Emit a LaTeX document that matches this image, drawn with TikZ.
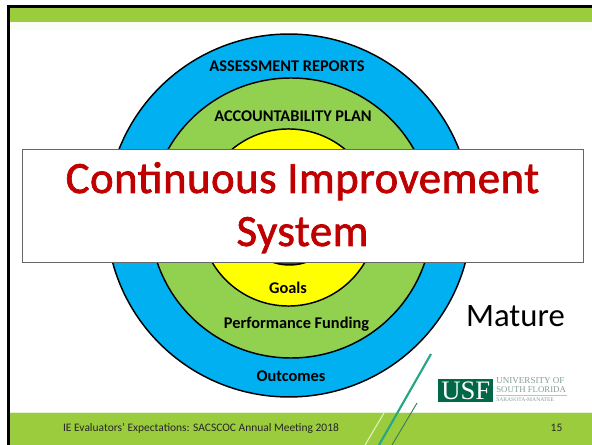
\documentclass[tikz,border=0pt]{standalone}
\usepackage{fontspec}
\setmainfont{Carlito}
\newfontfamily\logofont{Liberation Serif}
\newfontfamily\titlefont[FakeBold=1.6,LetterSpace=1.2]{Carlito}
\definecolor{barg}{HTML}{9BCC3E}
\definecolor{ringg}{HTML}{92D050}
\definecolor{ringb}{HTML}{00B0F0}
\definecolor{ringy}{HTML}{FFFF00}
\definecolor{titlered}{HTML}{C00000}
\definecolor{usfg}{HTML}{006747}
\definecolor{usfgray}{HTML}{85A094}
\definecolor{tealline}{HTML}{27A784}
\definecolor{darkline}{HTML}{3F7A5C}
\tikzset{
  ring/.style={draw=black,line width=1.1pt},
  lab/.style={anchor=base,inner sep=0pt,font=\fontsize{12.25}{14}\selectfont\bfseries,text=black},
  foot/.style={anchor=base,inner sep=0pt,font=\fontsize{8.6}{10}\selectfont,text=black!85},
  logotxt/.style={anchor=base west,inner sep=0pt,text=usfgray},
  titletxt/.style={anchor=base,inner sep=0pt,text=titlered,font=\titlefont\fontsize{33.5}{40}\selectfont},
}
\begin{document}
\begin{tikzpicture}[x=0.75pt,y=-0.75pt]
\useasboundingbox (0,0) rectangle (592,445);
\fill[white] (0,0) rectangle (592,445);
% slide frame and bars
\fill[barg!5] (9,22) rectangle (592,30);
\fill[barg] (9,8) rectangle (592,22.5);
\fill[barg!25] (9,411.5) rectangle (592,413);
\fill[barg] (9,413) rectangle (592,445);
\fill[black] (7,5) rectangle (592,8);
\fill[black] (7,5) rectangle (9.7,445);
% rings
\draw[ring,fill=ringb] (289,215.5) ellipse [x radius=136.9pt,y radius=136.1pt];
\draw[ring,fill=ringg] (291,218) ellipse [x radius=105.75pt,y radius=105pt];
\draw[ring,fill=ringy] (288.5,217.5) ellipse [x radius=66.4pt,y radius=66.4pt];
\draw[ring,fill=red!85!black] (289.5,213) circle [radius=39pt];
% ring labels
\node[lab] (reports) at (287,71.5) {ASSESSMENT REPORTS};
\node[lab] (plan) at (293,121.5) {ACCOUNTABILITY PLAN};
\node[lab] (goals) at (288,293) {Goals};
\node[lab] (funding) at (296.5,328) {Performance Funding};
\node[lab] (outcomes) at (291,381) {Outcomes};
% title box
\draw[draw=black!60,line width=0.8pt,fill=white] (22.3,149.3) rectangle (583.3,262.3);
\node[titletxt] (title1) at (302.5,193) {Continuous Improvement};
\node[titletxt] (title2) at (302.5,246) {System};
% Mature
\node[anchor=base,inner sep=0pt,font=\fontsize{24.5}{28}\selectfont,text=black] (mature) at (515.5,326) {Mature};
% decorative lines
\coordinate (la) at (384,413); \coordinate (lb) at (365,445);
\coordinate (ta) at (431,354); \coordinate (tb) at (379,445);
\coordinate (da) at (417,403); \coordinate (db) at (392,445);
\draw[line width=0.8pt,color=barg!30] (la) -- (lb);
\draw[line width=1.6pt,color=tealline] (ta) -- (tb);
\draw[line width=0.7pt,color=darkline] (da) -- (db);
% footer
\node[foot] (footer) at (201,431) {IE Evaluators’ Expectations: SACSCOC Annual Meeting 2018};
\node[foot] (page) at (556.5,431.5) {15};
% logo
\node[fill=usfg,anchor=north west,minimum width=41.25pt,minimum height=17.25pt,inner sep=0pt,
  text=white,font=\logofont\fontsize{20}{20}\selectfont] (usf) at (438,379) {USF};
\node[logotxt,font=\logofont\fontsize{6.8}{7}\selectfont] (l1) at (496,383) {UNIVERSITY OF};
\node[logotxt,font=\logofont\fontsize{6.6}{7}\selectfont] (l2) at (496,392.5) {SOUTH FLORIDA};
\node[logotxt,font=\logofont\fontsize{4.2}{5}\selectfont] (l3) at (496,401.5) {SARASOTA-MANATEE};
\coordinate (r1) at (496,395); \coordinate (r2) at (567,395);
\draw[usfgray!60,line width=0.4pt] (r1) -- (r2);
\end{tikzpicture}
\end{document}
